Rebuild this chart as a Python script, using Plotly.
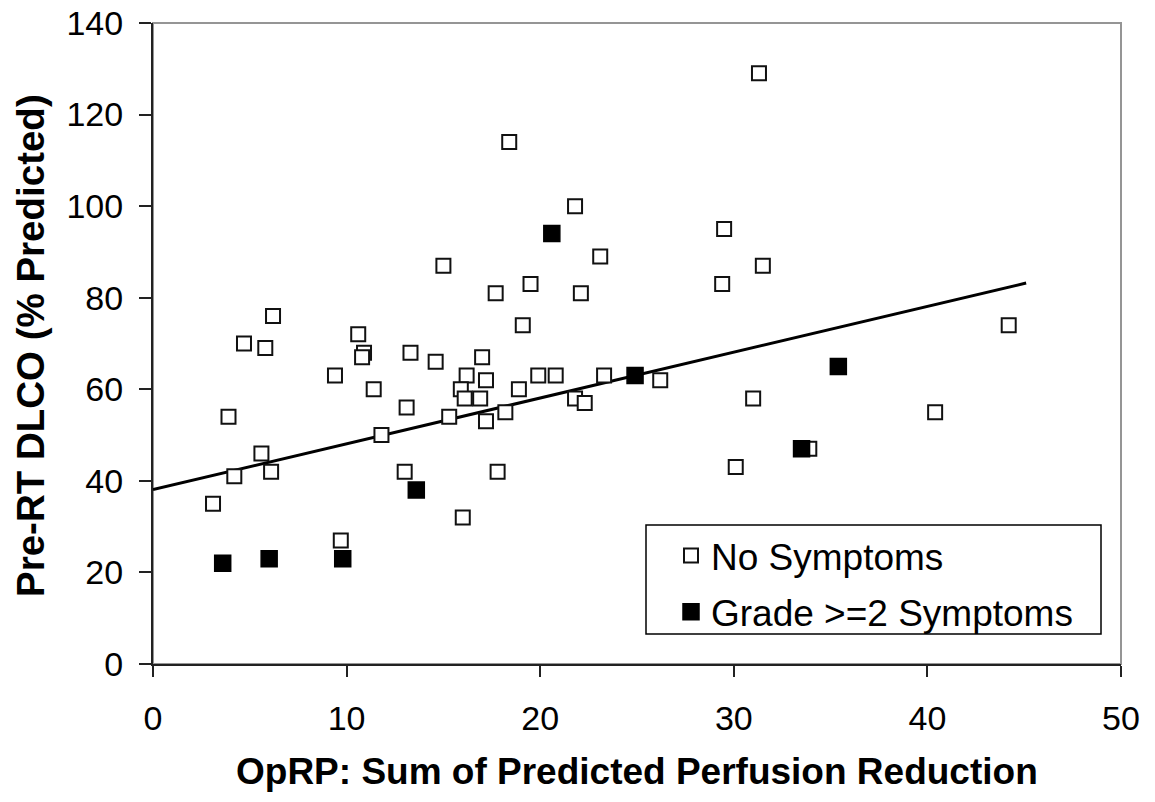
import plotly.graph_objects as go

# ---- data ----
no_sym_x = [31.3, 18.4, 21.8, 29.5, 31.5, 15.0, 23.1, 29.4, 19.5, 17.7,
            22.1, 6.2, 19.1, 44.2, 10.6, 4.7, 5.8, 10.9, 10.8, 13.3,
            14.6, 17.0, 9.4, 16.2, 19.9, 20.8, 23.3, 26.2, 17.2, 15.9,
            11.4, 18.9, 16.9, 16.1, 21.8, 22.3, 31.0, 13.1, 3.9, 15.3,
            18.2, 17.2, 40.4, 11.8, 5.6, 33.9, 30.1, 4.2, 6.1, 13.0,
            17.8, 3.1, 16.0, 9.7]
no_sym_y = [129, 114, 100, 95, 87, 87, 89, 83, 83, 81,
            81, 76, 74, 74, 72, 70, 69, 68, 67, 68,
            66, 67, 63, 63, 63, 63, 63, 62, 62, 60,
            60, 60, 58, 58, 58, 57, 58, 56, 54, 54,
            55, 53, 55, 50, 46, 47, 43, 41, 42, 42,
            42, 35, 32, 27]

grade2_x = [20.6, 24.9, 35.4, 33.5, 13.6, 3.6, 6.0, 9.8]
grade2_y = [94, 63, 65, 47, 38, 22, 23, 23]

trend_x = [0.0, 45.1]
trend_y = [38.1, 83.2]

x_ticks = [0, 10, 20, 30, 40, 50]
y_ticks = [0, 20, 40, 60, 80, 100, 120, 140]

FONT = "Arial, Liberation Sans, sans-serif"

fig = go.Figure()
fig.add_trace(go.Scatter(x=trend_x, y=trend_y, mode="lines",
                         line=dict(color="black", width=3), showlegend=False,
                         hoverinfo="skip"))
fig.add_trace(go.Scatter(x=no_sym_x, y=no_sym_y, mode="markers", name="No Symptoms",
                         legendgroup="a",
                         marker=dict(symbol="square", size=14, color="white",
                                     line=dict(color="#111", width=2))))
fig.add_trace(go.Scatter(x=grade2_x, y=grade2_y, mode="markers", name="Grade >=2 Symptoms",
                         legendgroup="b",
                         marker=dict(symbol="square", size=16, color="black",
                                     line=dict(color="black", width=1.5))))

L, R, T, B = 153, 34, 23, 138
W, H = 1155, 802
pw, ph = W - L - R, H - T - B

def px_x(p):
    return (p - L) / pw

def px_y(p):
    return (H - B - p) / ph

fig.update_layout(
    width=W, height=H,
    margin=dict(l=L, r=R, t=T, b=B, autoexpand=False),
    paper_bgcolor="white", plot_bgcolor="white",
    font=dict(family=FONT, color="black"),
    xaxis=dict(range=[0, 50], tickvals=x_ticks, showgrid=False, zeroline=False,
               showline=True, linecolor="#222", linewidth=2, automargin=False,
               ticks="outside", ticklen=11, tickwidth=1.5, tickcolor="#222",
               tickfont=dict(size=34, family=FONT), ticklabelstandoff=12),
    yaxis=dict(range=[0, 140], tickvals=y_ticks, showgrid=False, zeroline=False,
               showline=True, linecolor="#222", linewidth=2, automargin=False,
               ticks="outside", ticklen=12, tickwidth=1.5, tickcolor="#222",
               tickfont=dict(size=34, family=FONT), ticklabelstandoff=9),
    legend=dict(x=px_x(671), y=px_y(525), xanchor="left", yanchor="top",
                bgcolor="rgba(0,0,0,0)", borderwidth=0,
                font=dict(size=37, family=FONT), tracegroupgap=5,
                itemsizing="trace"),
    showlegend=True,
)

# gray frame (top/right)
fig.add_shape(type="rect", xref="paper", yref="paper", x0=0, x1=1, y0=0, y1=1,
              line=dict(color="#959595", width=2), layer="below")
# legend box
fig.add_shape(type="rect", xref="paper", yref="paper",
              x0=px_x(646), x1=px_x(1101), y0=px_y(634), y1=px_y(525),
              line=dict(color="black", width=1.5), fillcolor="white", layer="below")

fig.add_annotation(text="<b>OpRP: Sum of Predicted Perfusion Reduction</b>",
                   xref="paper", yref="paper", x=0.5, y=px_y(771),
                   xanchor="center", yanchor="middle", showarrow=False,
                   font=dict(size=37, family=FONT, color="black"))
fig.add_annotation(text="<b>Pre-RT DLCO (% Predicted)</b>",
                   xref="paper", yref="paper", x=px_x(30), y=px_y(346),
                   xanchor="center", yanchor="middle", showarrow=False, textangle=-90,
                   font=dict(size=38.5, family=FONT, color="black"))

fig.write_html("out.html", config={"displayModeBar": False})

# remove the browser's default page margin so the figure sits at (0, 0)
with open("out.html", "r", encoding="utf-8") as f:
    html = f.read()
html = html.replace("<head>", "<head><style>html,body{margin:0;padding:0;}</style>", 1)
with open("out.html", "w", encoding="utf-8") as f:
    f.write(html)
